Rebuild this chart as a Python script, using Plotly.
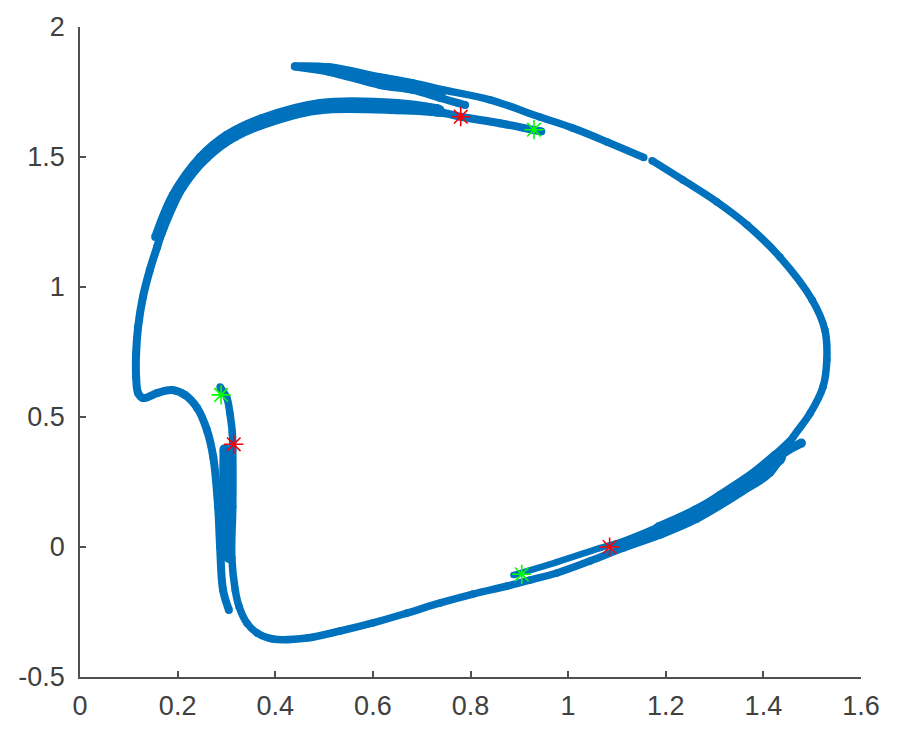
import plotly.graph_objects as go

BLUE = "#0072BD"

# branches of the trajectory
main_x = [0.44, 0.512, 0.615, 0.682, 0.744, 0.84, 0.942, 1.01, 1.08, 1.155, None, 1.172, 1.235, 1.305, 1.367, 1.434, 1.50, 1.526, 1.53, 1.522, 1.496, 1.461, 1.414, 1.352, 1.264, 1.188, 1.113, 1.045, 0.977, 0.922, 0.875, 0.805, 0.738, 0.67, 0.60, 0.533, 0.465, 0.395, 0.363, 0.342, 0.326, 0.318, 0.311, 0.313, 0.313, 0.312, 0.307, 0.301, 0.287]
main_y = [1.85, 1.846, 1.808, 1.785, 1.758, 1.72, 1.654, 1.611, 1.558, 1.498, None, 1.486, 1.412, 1.327, 1.238, 1.115, 0.95, 0.835, 0.72, 0.615, 0.515, 0.423, 0.285, 0.208, 0.108, 0.046, -0.004, -0.054, -0.10, -0.127, -0.15, -0.181, -0.215, -0.254, -0.292, -0.323, -0.35, -0.354, -0.331, -0.293, -0.23, -0.165, -0.04, 0.154, 0.373, 0.44, 0.515, 0.573, 0.615]

left_x = [0.945, 0.86, 0.78, 0.744, 0.65, 0.492, 0.404, 0.318, 0.26, 0.211, 0.168, 0.158, 0.143, 0.129, 0.119, 0.115, 0.115, 0.119, 0.129, 0.158, 0.188, 0.215, 0.24, 0.26, 0.273, 0.283, 0.287, 0.293, 0.305]
left_y = [1.598, 1.63, 1.655, 1.669, 1.68, 1.68, 1.642, 1.577, 1.496, 1.385, 1.21, 1.154, 1.065, 0.962, 0.846, 0.746, 0.654, 0.592, 0.573, 0.592, 0.604, 0.585, 0.535, 0.45, 0.346, 0.154, 0.0, -0.165, -0.242]

band_left_x = [0.154, 0.19, 0.246, 0.30, 0.373, 0.492, 0.65, 0.731]
band_left_y = [1.192, 1.354, 1.5, 1.585, 1.65, 1.708, 1.708, 1.688]

band_fill_x = [0.20, 0.253, 0.309, 0.388, 0.492, 0.65, 0.735]
band_fill_y = [1.37, 1.498, 1.581, 1.646, 1.694, 1.694, 1.678]

tongue_x = [0.44, 0.512, 0.615, 0.682, 0.738, 0.789]
tongue_y = [1.848, 1.827, 1.777, 1.758, 1.727, 1.70]

tongue_fill_x = [0.512, 0.615, 0.682, 0.738]
tongue_fill_y = [1.837, 1.793, 1.772, 1.742]

inner_x = [0.297, 0.297, 0.300, 0.305]
inner_y = [0.375, 0.22, 0.09, -0.04]

right_x = [1.461, 1.393, 1.311, 1.25, 1.113, 1.065, 0.977, 0.888]
right_y = [0.423, 0.308, 0.204, 0.135, 0.023, -0.004, -0.058, -0.108]

right_tip_x = [1.478, 1.444, 1.40]
right_tip_y = [0.40, 0.365, 0.30]

right_fill_x = [1.43, 1.352, 1.264, 1.188]
right_fill_y = [0.345, 0.227, 0.13, 0.065]

right_end_x = [1.25, 1.188, 1.113]
right_end_y = [0.12, 0.065, 0.008]

red_x = [0.78, 0.315, 1.085]
red_y = [1.655, 0.395, 0.0]
green_x = [0.93, 0.289, 0.905]
green_y = [1.605, 0.585, -0.105]

x_ticks = [0, 0.2, 0.4, 0.6, 0.8, 1, 1.2, 1.4, 1.6]
x_labels = ["0", "0.2", "0.4", "0.6", "0.8", "1", "1.2", "1.4", "1.6"]
y_ticks = [-0.5, 0, 0.5, 1, 1.5, 2]
y_labels = ["-0.5", "0", "0.5", "1", "1.5", "2"]

branches = [
    (main_x, main_y, 7.5),
    (left_x, left_y, 8),
    (band_left_x, band_left_y, 8),
    (band_fill_x, band_fill_y, 12),
    (tongue_x, tongue_y, 8),
    (tongue_fill_x, tongue_fill_y, 11),
    (inner_x, inner_y, 11),
    (right_x, right_y, 6.5),
    (right_tip_x, right_tip_y, 9),
    (right_fill_x, right_fill_y, 16),
    (right_end_x, right_end_y, 12),
]

fig = go.Figure()
for bx, by, w in branches:
    fig.add_trace(go.Scatter(x=bx, y=by, mode="lines+markers",
                             line=dict(color=BLUE, width=w, shape="spline", smoothing=1),
                             marker=dict(color=BLUE, size=w),
                             showlegend=False, hoverinfo="skip"))

fig.add_trace(go.Scatter(x=red_x, y=red_y, mode="markers",
                         marker=dict(symbol="asterisk-open", size=16, color="#FF0000",
                                     line=dict(color="#FF0000", width=1.6)),
                         showlegend=False))
fig.add_trace(go.Scatter(x=green_x, y=green_y, mode="markers",
                         marker=dict(symbol="asterisk-open", size=16, color="#00FF00",
                                     line=dict(color="#00FF00", width=1.6)),
                         showlegend=False))

axis_style = dict(showgrid=False, zeroline=False, showline=True, linecolor="#505050", linewidth=1.5,
                  ticks="inside", ticklen=6, tickwidth=1.5, tickcolor="#505050", automargin=False,
                  tickfont=dict(family="Liberation Sans", size=27, color="#404040"))
fig.update_xaxes(range=[0, 1.6], tickvals=x_ticks, ticktext=x_labels, ticklabelstandoff=4, **axis_style)
fig.update_yaxes(range=[-0.5, 2], tickvals=y_ticks, ticktext=y_labels, ticklabelstandoff=8, **axis_style)

# the page body adds 8 px round the figure
fig.update_layout(width=889, height=733, plot_bgcolor="white", paper_bgcolor="white",
                  margin=dict(l=72, r=36, t=19, b=64))

fig.write_html("out.html")
